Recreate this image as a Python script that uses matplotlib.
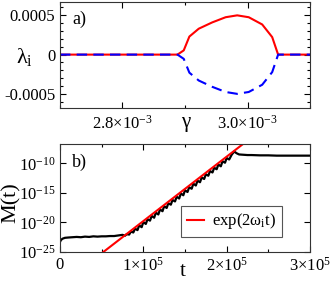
import matplotlib
matplotlib.use("Agg")
import matplotlib.pyplot as plt
from matplotlib.ticker import MultipleLocator, FixedLocator, FixedFormatter
import numpy as np

plt.rcParams['font.family'] = ['Liberation Serif', 'DejaVu Serif']
plt.rcParams['mathtext.fontset'] = 'custom'
plt.rcParams['mathtext.rm'] = 'Liberation Serif'
plt.rcParams['mathtext.it'] = 'Liberation Serif'
plt.rcParams['mathtext.bf'] = 'Liberation Serif:bold'

# panel a) : growth rate vs gamma
gamma = [2.70e-3, 2.75e-3, 2.80e-3, 2.85e-3, 2.888e-3, 2.898e-3, 2.907e-3, 2.922e-3,
         2.9435e-3, 2.965e-3, 2.9835e-3, 3.002e-3, 3.0235e-3, 3.0395e-3, 3.049e-3,
         3.07e-3, 3.10e-3]
lam_pos = [0, 0, 0, 0, 0, 5.4e-5, 2.3e-4, 3.3e-4, 4.1e-4, 4.76e-4, 5.0e-4, 4.76e-4,
           3.84e-4, 2.23e-4, 0, 0, 0]
lam_neg = [-v for v in lam_pos]

# panel b) : M(t), t in units of 1e5, log10 of M
t_b = [0.00, 0.01, 0.03, 0.06, 0.10, 0.15, 0.20, 0.25, 0.30, 0.35, 0.40, 0.45, 0.50,
       0.55, 0.60, 0.65, 0.70, 0.75, 0.78, 0.80, 0.83, 0.85, 0.88, 0.90, 0.93, 0.95,
       0.98, 1.00, 1.03, 1.05, 1.08, 1.10, 1.13, 1.15, 1.18, 1.20, 1.23, 1.25, 1.28,
       1.30, 1.33, 1.35, 1.38, 1.40, 1.43, 1.45, 1.48, 1.50, 1.53, 1.55, 1.58, 1.60,
       1.63, 1.65, 1.68, 1.70, 1.73, 1.75, 1.78, 1.80, 1.83, 1.85, 1.88, 1.90, 1.93,
       1.95, 1.98, 2.00, 2.03, 2.06, 2.09, 2.12, 2.15, 2.20, 2.25, 2.30, 2.40, 2.50,
       2.60, 2.70, 2.80, 2.90, 3.00]
logM_b = [-23.3, -23.0, -22.75, -22.6, -22.55, -22.5, -22.45, -22.5, -22.4, -22.45,
          -22.35, -22.4, -22.35, -22.35, -22.3, -22.3, -22.2, -22.1, -22.25, -22.0,
          -22.05, -21.55, -21.7, -21.05, -21.3, -20.5, -20.8, -19.95, -20.25, -19.45,
          -19.7, -18.9, -19.2, -18.35, -18.65, -17.8, -18.1, -17.25, -17.55, -16.75,
          -17.0, -16.2, -16.45, -15.65, -15.95, -15.1, -15.4, -14.55, -14.85, -14.05,
          -14.3, -13.45, -13.75, -12.95, -13.2, -12.4, -12.65, -11.85, -12.1, -11.3,
          -11.55, -10.75, -11.0, -10.2, -10.5, -9.65, -9.9, -9.1, -9.35, -8.55, -8.0,
          -8.3, -8.5, -8.55, -8.6, -8.6, -8.65, -8.65, -8.7, -8.7, -8.7, -8.7, -8.7]
fit_t = [0.52, 2.30]
fit_logM = [-25.0, -5.6]

fig = plt.figure(figsize=(3.32, 2.81), dpi=100)
fs = 12

ax1 = fig.add_axes([60/332, 1-108/281, 250/332, 106/281])
ax1.plot(gamma, lam_pos, '-', color='#ff0000', lw=1.5)
ax1.plot(gamma, lam_neg, '--', color='#0000ff', lw=1.5, dashes=(5, 3))
ax1.set_xlim(2.7e-3, 3.1e-3)
ax1.set_ylim(-0.00068, 0.00067)
ax1.xaxis.set_major_locator(FixedLocator([2.8e-3, 3.0e-3]))
ax1.xaxis.set_major_formatter(FixedFormatter([r'2.8$\times$10$^{-3}$', r'3.0$\times$10$^{-3}$']))
ax1.xaxis.set_minor_locator(MultipleLocator(1e-4))
ax1.yaxis.set_major_locator(FixedLocator([-0.0005, 0, 0.0005]))
ax1.yaxis.set_major_formatter(FixedFormatter(['-0.0005', '0', '0.0005']))
ax1.yaxis.set_minor_locator(MultipleLocator(1e-4))
ax1.text(0.048, 0.84, 'a)', transform=ax1.transAxes, fontsize=fs+1, va='center')
fig.text(24/332, 1-57/281, r'$\lambda_{\rm i}$', fontsize=fs+4, ha='center', va='center')
fig.text(186/332, 1-125/281, r'$\gamma$', fontsize=fs+3, ha='center', va='center')

ax2 = fig.add_axes([60/332, 1-252/281, 250/332, 108/281])
ax2.plot(np.array(t_b) * 1e5, 10 ** np.array(logM_b), color='black', lw=1.6)
ax2.plot(np.array(fit_t) * 1e5, 10 ** np.array(fit_logM), color='#ff0000', lw=1.5,
         label=r'exp(2$\omega_{\rm i}$t)')
ax2.set_yscale('log')
ax2.set_xlim(0, 3e5)
ax2.set_ylim(1e-25, 10 ** -6.73)
ax2.xaxis.set_major_locator(FixedLocator([0, 1e5, 2e5, 3e5]))
ax2.xaxis.set_major_formatter(FixedFormatter(['0', r'1$\times$10$^{5}$', r'2$\times$10$^{5}$', r'3$\times$10$^{5}$']))
ax2.xaxis.set_minor_locator(MultipleLocator(0.5e5))
ax2.yaxis.set_major_locator(FixedLocator([1e-25, 1e-20, 1e-15, 1e-10]))
ax2.yaxis.set_major_formatter(FixedFormatter([r'10$^{-25}$', r'10$^{-20}$', r'10$^{-15}$', r'10$^{-10}$']))
ax2.yaxis.set_minor_locator(FixedLocator([]))
ax2.text(0.048, 0.83, 'b)', transform=ax2.transAxes, fontsize=fs+1, va='center')
fig.text(11/332, 1-203/281, 'M(t)', fontsize=fs+4, rotation=90, ha='center', va='center')
fig.text(183/332, 1-271/281, 't', fontsize=fs+3, ha='center', va='center')
leg = ax2.legend(loc='upper left', bbox_to_anchor=(0.484, 0.43), fontsize=fs,
                 fancybox=False, framealpha=1, edgecolor='#555555',
                 handlelength=1.0, borderpad=0.35, handletextpad=0.5, borderaxespad=0)
leg.get_frame().set_linewidth(0.8)

for ax in (ax1, ax2):
    ax.tick_params(which='both', direction='in', top=True, right=True, labelsize=fs)
    ax.tick_params(which='major', length=4, width=0.8)
    ax.tick_params(which='minor', length=2, width=0.8)
    for s in ax.spines.values():
        s.set_linewidth(0.8)
        s.set_color('#333333')
ax1.tick_params(axis='x', pad=5)

fig.savefig('out.png', dpi=100)
